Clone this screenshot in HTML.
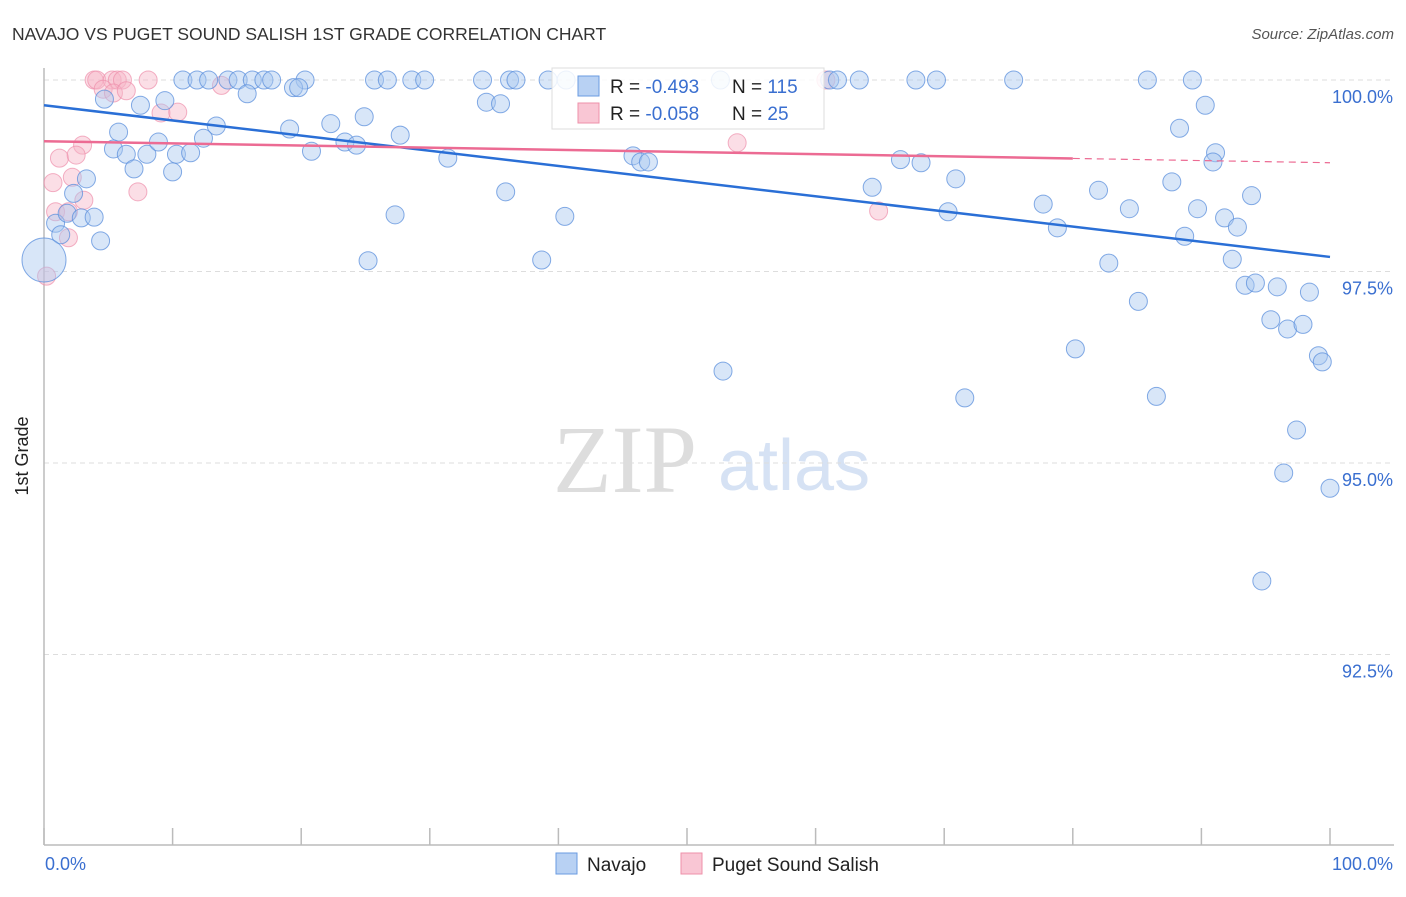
<!DOCTYPE html>
<html><head><meta charset="utf-8"><style>
body{margin:0;background:#fff;font-family:"Liberation Sans",sans-serif;}
svg text{font-family:"Liberation Sans",sans-serif;}
</style></head><body>
<svg id="c" width="1406" height="892" xmlns="http://www.w3.org/2000/svg">
<text x="12" y="40" font-size="17.5" fill="#333">NAVAJO VS PUGET SOUND SALISH 1ST GRADE CORRELATION CHART</text>
<text x="1394" y="39" font-size="15" fill="#555" text-anchor="end" font-style="italic">Source: ZipAtlas.com</text>
<g>
<text x="553" y="492" font-size="96" fill="#ddd" style="font-family:'Liberation Serif',serif">ZIP</text>
<text x="718" y="490" font-size="72" fill="#d6e2f4">atlas</text>
</g>
<g id="grid"></g>
<line x1="44" y1="68" x2="44" y2="845" stroke="#bbb" stroke-width="1.5"/>
<line x1="44" y1="845" x2="1394" y2="845" stroke="#bbb" stroke-width="1.5"/>
<text x="28" y="456" font-size="18" fill="#222" text-anchor="middle" transform="rotate(-90 28 456)">1st Grade</text>
<g id="pts"></g>
<g id="lines"></g>
<g>
<rect x="552" y="68" width="272" height="61" fill="#fff" fill-opacity="0.85" stroke="#ddd"/>
<rect x="578" y="76" width="21" height="20" fill="#b8d1f3" stroke="#6a9be0"/>
<rect x="578" y="103" width="21" height="20" fill="#f9c6d4" stroke="#ee90aa"/>
<text x="610" y="93" font-size="19" fill="#222">R = <tspan fill="#3a6fd0">-0.493</tspan></text>
<text x="732" y="93" font-size="19" fill="#222">N = <tspan fill="#3a6fd0">115</tspan></text>
<text x="610" y="120" font-size="19" fill="#222">R = <tspan fill="#3a6fd0">-0.058</tspan></text>
<text x="732" y="120" font-size="19" fill="#222">N = <tspan fill="#3a6fd0"> 25</tspan></text>
</g>
<g>
<rect x="556" y="853" width="21" height="21" fill="#b8d1f3" stroke="#6a9be0"/>
<text x="587" y="871" font-size="19" fill="#222">Navajo</text>
<rect x="681" y="853" width="21" height="21" fill="#f9c6d4" stroke="#ee90aa"/>
<text x="712" y="871" font-size="19" fill="#222">Puget Sound Salish</text>
</g>
</svg>
<script>
const yTicks=[100,97.5,95,92.5];
const yTickLabels=["100.0%","97.5%","95.0%","92.5%"];
const xTicks=[0,10,20,30,40,50,60,70,80,90,100];
const xEndLabels=["0.0%","100.0%"];
const navX=[10.8,11.9,12.8,14.3,15.1,16.2,17.1,17.7,20.3,25.7,26.7,28.6,29.6,34.1,36.2,36.7,39.2,40.6,52.6,61.1,61.7,63.4,67.8,69.4,75.4,85.8,89.3,
4.7,7.5,9.4,15.8,19.4,19.8,34.4,35.5,90.3,5.8,13.4,19.1,22.3,24.9,88.3,
5.4,6.4,8.0,8.9,10.3,11.4,12.4,20.8,23.4,24.3,27.7,31.4,45.8,46.4,47.0,66.6,68.2,91.1,90.9,
3.3,7.0,10.0,2.3,35.9,64.4,70.9,82.0,87.7,93.9,
0.9,1.8,2.9,3.9,27.3,40.5,70.3,77.7,84.4,89.7,91.8,92.8,78.8,
1.3,4.4,88.7,0,25.2,38.7,82.8,92.4,93.4,94.2,95.9,98.4,85.1,95.4,96.7,97.9,80.2,99.1,99.4,52.8,71.6,86.5,97.4,96.4,100,94.7];
const navY=[100,100,100,100,100,100,100,100,100,100,100,100,100,100,100,100,100,100,100,100,100,100,100,100,100,100,100,
99.75,99.67,99.73,99.82,99.9,99.9,99.71,99.69,99.67,99.32,99.4,99.36,99.43,99.52,99.37,
99.1,99.03,99.03,99.19,99.03,99.05,99.24,99.07,99.19,99.15,99.28,98.98,99.01,98.93,98.93,98.96,98.92,99.05,98.93,
98.71,98.84,98.8,98.52,98.54,98.6,98.71,98.56,98.67,98.49,
98.13,98.26,98.2,98.21,98.24,98.22,98.28,98.38,98.32,98.32,98.2,98.08,98.07,
97.98,97.9,97.96,97.65,97.64,97.65,97.61,97.66,97.32,97.35,97.3,97.23,97.11,96.87,96.75,96.81,96.49,96.4,96.32,96.2,95.85,95.87,95.43,94.87,94.67,93.46];
const pugX=[3.9,4.1,5.3,5.7,6.1,8.1,60.8,13.8,4.6,5.4,6.4,9.1,10.4,3.0,1.2,2.5,0.7,2.2,3.1,7.3,0.9,1.9,1.9,0.2,53.9,64.9];
const pugY=[100,100,100,100,100,100,100,99.93,99.88,99.83,99.86,99.57,99.58,99.15,98.98,99.02,98.66,98.73,98.43,98.54,98.28,98.28,97.94,97.44,99.18,98.29];
const navTrend=[99.67,97.69];
const pugTrend=[99.2,98.92];
const pugSolidEnd=80;
const sx=v=>44+v*12.86;
const sy=v=>80+(100-v)*76.6;
const NS="http://www.w3.org/2000/svg";
function mk(t,a,p){const e=document.createElementNS(NS,t);for(const k in a)e.setAttribute(k,a[k]);p.appendChild(e);return e;}
const svg=document.getElementById('c'),grid=document.getElementById('grid'),pts=document.getElementById('pts'),lines=document.getElementById('lines');
yTicks.forEach((v,i)=>{
const l=mk('line',{x1:44,x2:1394,y1:sy(v),y2:sy(v),stroke:'#ddd','stroke-dasharray':'5,4'},grid);


const t=mk('text',{x:1393,y:sy(v)+23,'font-size':18,fill:'#3a6fd0','text-anchor':'end'},grid);
t.textContent=yTickLabels[i];


});
xTicks.forEach(v=>{
const l=mk('line',{x1:sx(v),x2:sx(v),y1:828,y2:845,stroke:'#bbb','stroke-width':1.5},grid);


});
[[0,'start',45],[100,'end',1393]].forEach((d,i)=>{
const t=mk('text',{x:d[2],y:870,'font-size':18,fill:'#3a6fd0','text-anchor':d[1]},grid);
t.textContent=xEndLabels[i];


});
pugX.forEach((x,i)=>{
const c=mk('circle',{cx:sx(x),cy:sy(pugY[i]),r:9,fill:'#f7b5c8','fill-opacity':0.45,stroke:'#ee8fab','stroke-opacity':0.7},pts);


});
navX.forEach((x,i)=>{
const r=(x===0&&navY[i]>97.6&&navY[i]<97.7)?22:9;
const c=mk('circle',{cx:sx(x),cy:sy(navY[i]),r:r,fill:'#a9c8f0','fill-opacity':0.45,stroke:'#5b8fdc','stroke-opacity':0.75},pts);


});
const b=mk('line',{x1:sx(0),y1:sy(navTrend[0]),x2:sx(100),y2:sy(navTrend[1]),stroke:'#2a6fd6','stroke-width':2.5},lines);


const pm=pugTrend[0]+(pugTrend[1]-pugTrend[0])*pugSolidEnd/100;
const p1=mk('line',{x1:sx(0),y1:sy(pugTrend[0]),x2:sx(pugSolidEnd),y2:sy(pm),stroke:'#ec6b93','stroke-width':2.5},lines);


const p2=mk('line',{x1:sx(pugSolidEnd),y1:sy(pm),x2:sx(100),y2:sy(pugTrend[1]),stroke:'#ec6b93','stroke-width':1.2,'stroke-dasharray':'7,5'},lines);


</script>
</body></html>
